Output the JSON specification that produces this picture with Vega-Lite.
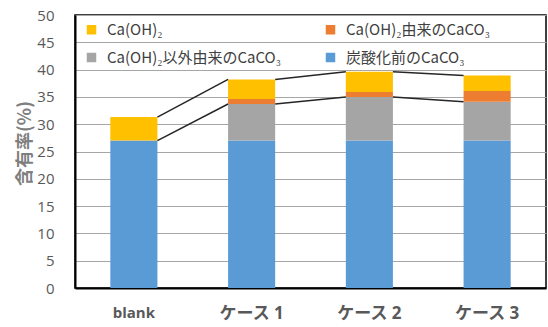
{
  "$schema": "https://vega.github.io/schema/vega-lite/v6.json",
  "width": 471,
  "height": 273,
  "autosize": {"type": "none"},
  "padding": {"left": 75, "top": 15, "right": 2, "bottom": 39},
  "background": "white",
  "config": {
    "view": {"stroke": "black", "strokeWidth": 1.5},
    "font": "Noto Sans CJK JP",
    "axisX": {
      "labelAngle": 0,
      "domainColor": "black",
      "domainWidth": 2,
      "ticks": false,
      "grid": false,
      "labelFont": "Open Sans, Noto Sans CJK JP",
      "labelFontSize": {"condition": {"test": "datum.value == 'blank'", "value": 15}, "value": 17},
      "labelFontWeight": "bold",
      "labelColor": "#595959",
      "labelPadding": 17
    },
    "axisY": {
      "grid": true,
      "gridColor": "#A6A6A6",
      "gridWidth": 1.2,
      "domainColor": "black",
      "domainWidth": 2,
      "ticks": false,
      "labelFont": "Open Sans",
      "labelFontSize": 15,
      "labelColor": "#595959",
      "labelPadding": 21,
      "titleFont": "Noto Sans CJK JP",
      "titleFontSize": 18,
      "titleFontWeight": "bold",
      "titleColor": "#7F7F7F",
      "titleX": -50,
      "titleY": 128,
      "titleAngle": -90,
      "titleAlign": "center",
      "titleBaseline": "middle"
    }
  },
  "datasets": {
    "bars": [
      {"case": "blank", "component": "炭酸化前のCaCO₃", "order": 1, "value": 27.0},
      {"case": "blank", "component": "Ca(OH)₂", "order": 4, "value": 4.3},
      {"case": "ケース 1", "component": "炭酸化前のCaCO₃", "order": 1, "value": 27.0},
      {"case": "ケース 1", "component": "Ca(OH)₂以外由来のCaCO₃", "order": 2, "value": 6.7},
      {"case": "ケース 1", "component": "Ca(OH)₂由来のCaCO₃", "order": 3, "value": 0.9},
      {"case": "ケース 1", "component": "Ca(OH)₂", "order": 4, "value": 3.6},
      {"case": "ケース 2", "component": "炭酸化前のCaCO₃", "order": 1, "value": 27.0},
      {"case": "ケース 2", "component": "Ca(OH)₂以外由来のCaCO₃", "order": 2, "value": 8.0},
      {"case": "ケース 2", "component": "Ca(OH)₂由来のCaCO₃", "order": 3, "value": 0.9},
      {"case": "ケース 2", "component": "Ca(OH)₂", "order": 4, "value": 3.7},
      {"case": "ケース 3", "component": "炭酸化前のCaCO₃", "order": 1, "value": 27.0},
      {"case": "ケース 3", "component": "Ca(OH)₂以外由来のCaCO₃", "order": 2, "value": 7.1},
      {"case": "ケース 3", "component": "Ca(OH)₂由来のCaCO₃", "order": 3, "value": 2.0},
      {"case": "ケース 3", "component": "Ca(OH)₂", "order": 4, "value": 2.8}
    ],
    "lines": [
      {"from": "blank", "to": "ケース 1", "y1": 31.3, "y2": 38.2},
      {"from": "ケース 1", "to": "ケース 2", "y1": 38.2, "y2": 39.6},
      {"from": "ケース 2", "to": "ケース 3", "y1": 39.6, "y2": 38.9},
      {"from": "blank", "to": "ケース 1", "y1": 27.0, "y2": 33.7},
      {"from": "ケース 1", "to": "ケース 2", "y1": 33.7, "y2": 35.0},
      {"from": "ケース 2", "to": "ケース 3", "y1": 35.0, "y2": 34.1}
    ]
  },
  "layer": [
    {
      "data": {"name": "bars"},
      "mark": {"type": "bar"},
      "encoding": {
        "x": {
          "field": "case",
          "type": "nominal",
          "title": null,
          "sort": ["blank", "ケース 1", "ケース 2", "ケース 3"],
          "scale": {"paddingInner": 0.6, "paddingOuter": 0.3}
        },
        "y": {
          "field": "value",
          "type": "quantitative",
          "title": "含有率(%)",
          "stack": "zero",
          "scale": {"domain": [0, 50], "nice": false},
          "axis": {"values": [0, 5, 10, 15, 20, 25, 30, 35, 40, 45, 50]}
        },
        "color": {
          "field": "component",
          "type": "nominal",
          "scale": {
            "domain": ["Ca(OH)₂", "Ca(OH)₂由来のCaCO₃", "Ca(OH)₂以外由来のCaCO₃", "炭酸化前のCaCO₃"],
            "range": ["#FFC000", "#ED7D31", "#A5A5A5", "#5B9BD5"]
          },
          "legend": {
            "orient": "none",
            "legendX": 9,
            "legendY": 7,
            "direction": "horizontal",
            "columns": 2,
            "title": null,
            "symbolType": "square",
            "symbolSize": 90,
            "symbolStrokeWidth": 0,
            "labelFont": "Noto Sans CJK JP",
            "labelFontSize": 15,
            "labelColor": "#404040",
            "labelOffset": 8,
            "rowPadding": 12,
            "columnPadding": 42,
            "labelLimit": 400
          }
        },
        "order": {"field": "order", "type": "quantitative"}
      }
    },
    {
      "data": {"name": "lines"},
      "mark": {"type": "rule", "color": "#262626", "strokeWidth": 1.5},
      "encoding": {
        "x": {"field": "from", "type": "nominal", "title": null, "bandPosition": 1, "sort": ["blank", "ケース 1", "ケース 2", "ケース 3"]},
        "x2": {"field": "to", "bandPosition": 0},
        "y": {"field": "y1", "type": "quantitative", "title": "含有率(%)", "axis": {"values": [0, 5, 10, 15, 20, 25, 30, 35, 40, 45, 50]}},
        "y2": {"field": "y2"}
      }
    }
  ]
}
